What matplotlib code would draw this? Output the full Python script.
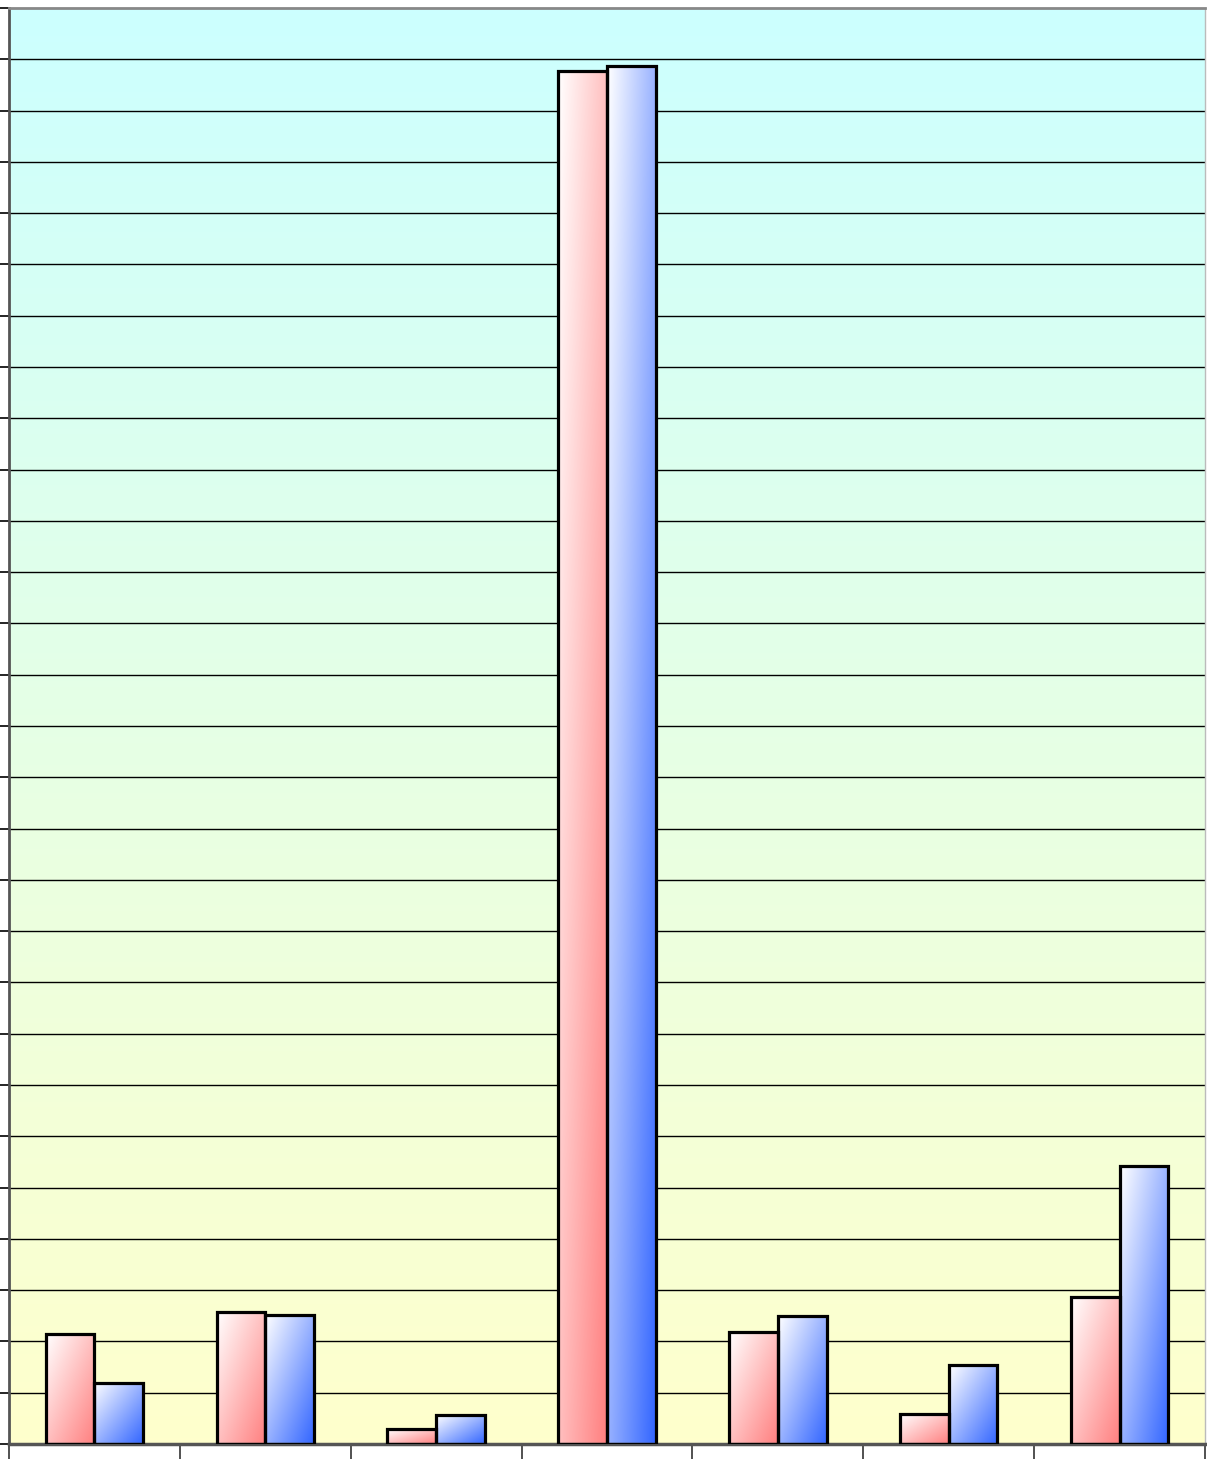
import numpy as np
import matplotlib
matplotlib.use('Agg')
import matplotlib.pyplot as plt

# values (one unit = one gridline)
categories = ['1', '2', '3', '4', '5', '6', '7']
series_red = [2.14, 2.58, 0.29, 26.78, 2.18, 0.58, 2.87]
series_blue = [1.19, 2.51, 0.56, 26.86, 2.49, 1.54, 5.42]
y_max = 28

RED = np.array([255, 128, 128]) / 255
BLUE = np.array([51, 102, 255]) / 255


def gradient_bar(ax, x0, width, height, color):
    # diagonal gradient: white top-left -> color bottom-right
    n = 64
    xs = np.linspace(0, 1, n)
    ys = np.linspace(0, 1, n)
    X, Y = np.meshgrid(xs, ys)
    t = np.clip(0.5 * X + 0.5 * Y, 0, 1)  # Y=0 at top row (origin upper)
    img = (1 - t)[..., None] * np.ones(3) + t[..., None] * color
    ax.imshow(img, extent=(x0, x0 + width, 0, height), origin='upper',
              aspect='auto', zorder=2, interpolation='bilinear')
    ax.bar(x0, height, width=width, align='edge', fill=False,
           edgecolor='black', linewidth=2.3, zorder=3)


fig = plt.figure(figsize=(12.07, 14.61), dpi=100)
ax = fig.add_axes([9 / 1207, 17 / 1461, 1196 / 1207, 1436 / 1461])

# background gradient cyan -> light yellow
top = np.array([204, 255, 255]) / 255
bot = np.array([255, 255, 204]) / 255
tt = np.linspace(0, 1, 256)[:, None]
bg = (1 - tt)[..., None] * top + tt[..., None] * bot
bg = np.repeat(bg, 2, axis=1)
ax.imshow(bg, extent=(0, 1, 0, 1), transform=ax.transAxes, aspect='auto',
          zorder=0, origin='upper')

n = len(categories)
bw = 0.285
for i in range(n):
    center = i + 0.5
    gradient_bar(ax, center - bw, bw, series_red[i], RED)
    gradient_bar(ax, center, bw, series_blue[i], BLUE)

ax.set_xlim(0, n)
ax.set_ylim(0, y_max)
ax.set_yticks(range(0, y_max + 1))
ax.set_xticks(range(0, n + 1))
ax.set_yticklabels([])
ax.set_xticklabels([])
ax.tick_params(axis='y', direction='out', length=7, width=1.2, color='black')
ax.tick_params(axis='x', direction='out', length=11, width=1.2, color='#333333')

for y in range(1, y_max):
    ax.axhline(y, color='black', linewidth=1, zorder=1)

ax.spines['left'].set_color('#555555')
ax.spines['left'].set_linewidth(2)
ax.spines['bottom'].set_color('#555555')
ax.spines['bottom'].set_linewidth(2.5)
ax.spines['top'].set_color('#888888')
ax.spines['top'].set_linewidth(2)
ax.spines['right'].set_color('#bbbbbb')
ax.spines['right'].set_linewidth(1)

fig.savefig('out.png', dpi=100)
